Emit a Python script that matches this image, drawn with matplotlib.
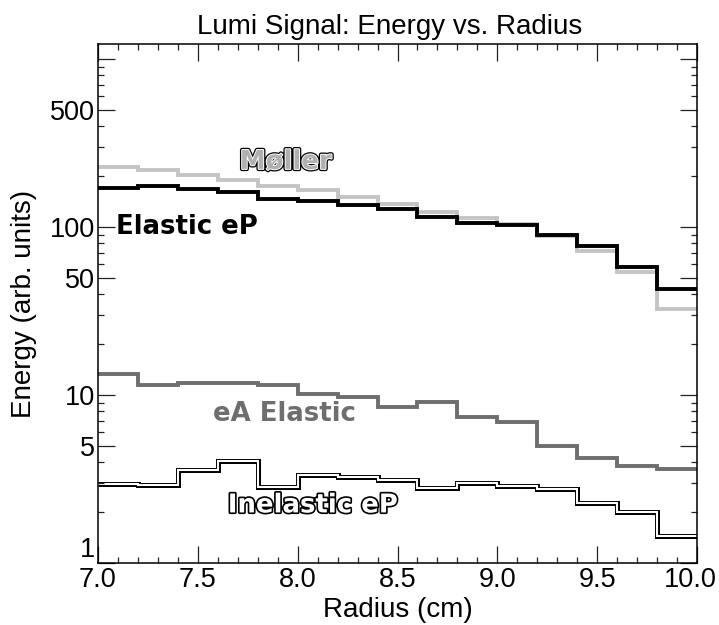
import matplotlib
matplotlib.use("Agg")
import matplotlib.pyplot as plt
from matplotlib import patheffects as pe
from matplotlib import transforms as mtrans
from matplotlib.ticker import FixedLocator, FixedFormatter, NullFormatter

# ---- data ----
bin_edges = [7.0, 7.2, 7.4, 7.6, 7.8, 8.0, 8.2, 8.4, 8.6, 8.8, 9.0, 9.2, 9.4, 9.6, 9.8, 10.0]
moller = [229, 219.5, 203.7, 189.9, 175.4, 165, 150.2, 136.8, 123.5, 113.5, 104.8, 88.1, 72.1, 53.7, 32.5]
elastic_ep = [169.7, 174.5, 168.9, 160.5, 147.5, 142.7, 134.3, 128.2, 114.5, 105.8, 103.3, 89.8, 76.6, 57.8, 42.5]
ea_elastic = [13.4, 11.4, 11.8, 11.8, 11.45, 10.2, 9.7, 8.5, 9.05, 7.4, 6.9, 5.0, 4.2, 3.8, 3.65]
inelastic_ep = [2.94, 2.90, 3.56, 4.04, 2.85, 3.33, 3.25, 3.10, 2.79, 2.98, 2.88, 2.75, 2.27, 2.0, 1.44]

y_major = [1, 5, 10, 50, 100, 500, 1000]
y_major_labels = ["1", "5", "10", "50", "100", "500", ""]
x_major = [7.0, 7.5, 8.0, 8.5, 9.0, 9.5, 10.0]
x_major_labels = ["7.0", "7.5", "8.0", "8.5", "9.0", "9.5", "10.0"]

title = "Lumi Signal: Energy vs. Radius"
xlabel = "Radius (cm)"
ylabel = "Energy (arb. units)"

W, H = 719, 625
fig = plt.figure(figsize=(W / 100, H / 100), dpi=100)
L, R, T, B = 98, 697, 44, 563
ax = fig.add_axes([L / W, (H - B) / H, (R - L) / W, (B - T) / H])

ax.stairs(moller, bin_edges, baseline=None, color="#c4c4c4", lw=2.8)
ax.stairs(elastic_ep, bin_edges, baseline=None, color="black", lw=2.8)
ax.stairs(ea_elastic, bin_edges, baseline=None, color="#6e6e6e", lw=2.8)
ax.stairs(inelastic_ep, bin_edges, baseline=None, color="black", lw=3.6)
ax.stairs(inelastic_ep, bin_edges, baseline=None, color="white", lw=1.5)

ax.set_yscale("log")
ax.set_xlim(7.0, 10.0)
ax.set_ylim(1, 1228)

ax.xaxis.set_major_locator(FixedLocator(x_major))
ax.xaxis.set_major_formatter(FixedFormatter(x_major_labels))
ax.xaxis.set_minor_locator(FixedLocator([7.0 + 0.1 * i for i in range(31)]))
y_minor = [m * d for d in (1, 10, 100) for m in (2, 3, 4, 6, 7, 8, 9)]
ax.yaxis.set_major_locator(FixedLocator(y_major))
ax.yaxis.set_major_formatter(FixedFormatter(y_major_labels))
ax.yaxis.set_minor_locator(FixedLocator(y_minor))
ax.yaxis.set_minor_formatter(NullFormatter())

ax.tick_params(which="both", direction="in", top=True, right=True, width=0.9, color="#222222")
ax.tick_params(which="major", length=12.5)
ax.tick_params(which="minor", length=4.2)
ax.tick_params(axis="y", pad=2)
ax.tick_params(axis="x", pad=3)
for lab in ax.get_xticklabels() + ax.get_yticklabels():
    lab.set_fontfamily("Liberation Sans")
    lab.set_fontsize(19.5)
for sp in ax.spines.values():
    sp.set_linewidth(1.1)

ax.yaxis.get_major_ticks()[0].label1.set_verticalalignment("bottom")
last = ax.xaxis.get_major_ticks()[-1].label1
last.set_transform(last.get_transform() + mtrans.ScaledTranslation(-7 / 100, 0, fig.dpi_scale_trans))

ax.set_xlabel(xlabel, family="Liberation Sans", fontsize=20)
ax.xaxis.set_label_coords(0.5, -(597 - B) / (B - T))
ax.set_ylabel(ylabel, family="Liberation Sans", fontsize=20)
ax.yaxis.set_label_coords((37 - L) / (R - L), 0.5)

fig.text(390 / W, (H - 34) / H, title, family="Liberation Sans", fontsize=20,
         ha="center", va="baseline")

lab_font = dict(family="DejaVu Sans", weight="bold", fontsize=18.7)
ax.text(7.71, 221.6, "Møller", color="#b0b0b0", ha="left", va="baseline", **lab_font,
        path_effects=[pe.Stroke(linewidth=3.2, foreground="black"),
                      pe.Stroke(linewidth=1.4, foreground="white"), pe.Normal()])
ax.text(7.09, 91, "Elastic eP", color="black", ha="left", va="baseline", **lab_font)
ax.text(7.575, 6.96, "eA Elastic", color="#6e6e6e", ha="left", va="baseline", **lab_font)
ax.text(7.65, 2.0, "Inelastic eP", color="white", ha="left", va="baseline", **lab_font,
        path_effects=[pe.Stroke(linewidth=2.4, foreground="black"), pe.Normal()])

fig.savefig("out.png", dpi=100)
